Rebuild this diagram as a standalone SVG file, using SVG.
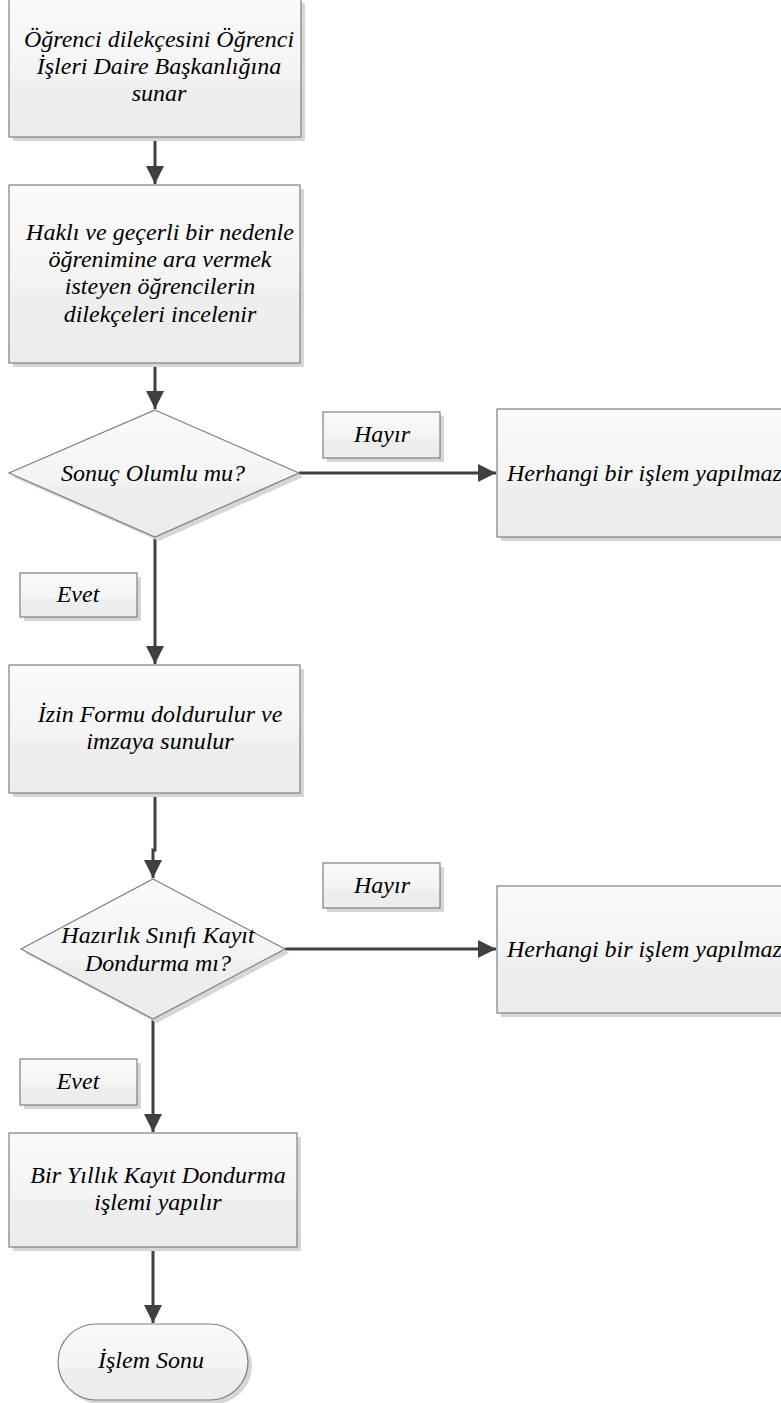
<svg xmlns="http://www.w3.org/2000/svg" width="781" height="1403" viewBox="0 0 781 1403">
<style>
.sh{fill:#d6d6d6;stroke:none}
.nd{fill:url(#g);stroke:#7f7f7f;stroke-width:1.2}
.t{font-family:"Liberation Serif","Times New Roman",serif;font-style:italic;font-size:24px;fill:#000;text-anchor:middle}
.c{fill:none;stroke:#404040;stroke-width:3}
</style>
<defs>
<linearGradient id="g" x1="0" y1="0" x2="0" y2="1">
<stop offset="0" stop-color="#fafafa"/>
<stop offset="0.55" stop-color="#f4f4f4"/>
<stop offset="0.62" stop-color="#eeeeee"/>
<stop offset="1" stop-color="#ececec"/>
</linearGradient>
<marker id="a" viewBox="0 0 10 10" refX="10" refY="5" markerWidth="6" markerHeight="6" markerUnits="strokeWidth" orient="auto">
<path d="M0,0 L10,5 L0,10 z" fill="#404040"/>
</marker>
</defs>

<g id="connectors">
<path class="c" d="M155,137 V184" marker-end="url(#a)"/>
<path class="c" d="M155,363 V409" marker-end="url(#a)"/>
<path class="c" d="M299,473 H496" marker-end="url(#a)"/>
<path class="c" d="M155,537 V664" marker-end="url(#a)"/>
<path class="c" d="M155,793 V850 H153 V878" marker-end="url(#a)"/>
<path class="c" d="M285,949 H496" marker-end="url(#a)"/>
<path class="c" d="M153,1019 V1132" marker-end="url(#a)"/>
<path class="c" d="M153,1247 V1323" marker-end="url(#a)"/>
</g>

<g id="n1">
<rect class="sh" x="13" y="3" width="292" height="138"/>
<rect class="nd" x="9" y="-1" width="292" height="138"/>
<text class="t" x="159" y="47">Öğrenci dilekçesini Öğrenci</text>
<text class="t" x="159" y="74">İşleri Daire Başkanlığına</text>
<text class="t" x="159" y="101">sunar</text>
</g>

<g id="n2">
<rect class="sh" x="13" y="189" width="291" height="178"/>
<rect class="nd" x="9" y="185" width="291" height="178"/>
<text class="t" x="160" y="240">Haklı ve geçerli bir nedenle</text>
<text class="t" x="160" y="267">öğrenimine ara vermek</text>
<text class="t" x="160" y="294">isteyen öğrencilerin</text>
<text class="t" x="160" y="322">dilekçeleri incelenir</text>
</g>

<g id="d1">
<polygon class="sh" points="159,414 303,477 159,541 13,477"/>
<polygon class="nd" points="155,410 299,473 155,537 9,473"/>
<text class="t" x="153" y="481">Sonuç Olumlu mu?</text>
</g>

<g id="l1">
<rect class="sh" x="327" y="416" width="117" height="46"/>
<rect class="nd" x="323" y="412" width="117" height="46"/>
<text class="t" x="382" y="442">Hayır</text>
</g>

<g id="n3">
<rect class="sh" x="501" y="413" width="300" height="128"/>
<rect class="nd" x="497" y="409" width="300" height="128"/>
<text class="t" x="507" y="481" style="text-anchor:start">Herhangi bir işlem yapılmaz</text>
</g>

<g id="l2">
<rect class="sh" x="24" y="577" width="117" height="44"/>
<rect class="nd" x="20" y="573" width="117" height="44"/>
<text class="t" x="78" y="602">Evet</text>
</g>

<g id="n4">
<rect class="sh" x="13" y="669" width="291" height="128"/>
<rect class="nd" x="9" y="665" width="291" height="128"/>
<text class="t" x="160" y="722">İzin Formu doldurulur ve</text>
<text class="t" x="160" y="749">imzaya sunulur</text>
</g>

<g id="d2">
<polygon class="sh" points="157,883 289,953 157,1023 25,953"/>
<polygon class="nd" points="153,879 285,949 153,1019 21,949"/>
<text class="t" x="158" y="943">Hazırlık Sınıfı Kayıt</text>
<text class="t" x="158" y="971">Dondurma mı?</text>
</g>

<g id="l3">
<rect class="sh" x="327" y="867" width="117" height="45"/>
<rect class="nd" x="323" y="863" width="117" height="45"/>
<text class="t" x="382" y="893">Hayır</text>
</g>

<g id="n5">
<rect class="sh" x="501" y="890" width="300" height="127"/>
<rect class="nd" x="497" y="886" width="300" height="127"/>
<text class="t" x="507" y="957" style="text-anchor:start">Herhangi bir işlem yapılmaz</text>
</g>

<g id="l4">
<rect class="sh" x="24" y="1063" width="117" height="46"/>
<rect class="nd" x="20" y="1059" width="117" height="46"/>
<text class="t" x="78" y="1089">Evet</text>
</g>

<g id="n6">
<rect class="sh" x="13" y="1137" width="288" height="114"/>
<rect class="nd" x="9" y="1133" width="288" height="114"/>
<text class="t" x="158" y="1183">Bir Yıllık Kayıt Dondurma</text>
<text class="t" x="158" y="1210">işlemi yapılır</text>
</g>

<g id="n7">
<rect class="sh" x="62" y="1328" width="190" height="76" rx="38" ry="38"/>
<rect class="nd" x="58" y="1324" width="190" height="76" rx="38" ry="38"/>
<text class="t" x="151" y="1368">İşlem Sonu</text>
</g>
</svg>
